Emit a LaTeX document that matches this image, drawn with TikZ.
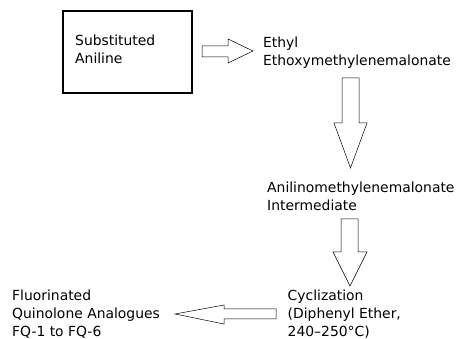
\documentclass[tikz,border=0pt]{standalone}
\usepackage{fontspec}
\setmainfont{DejaVu Sans}
\usetikzlibrary{positioning, calc}

\begin{document}
\begin{tikzpicture}[x=1pt, y=-1pt,
    label/.style={anchor=north west, inner sep=0pt, align=left, font=\fontsize{13.9}{18}\selectfont},
    blockarrow/.style={draw, line width=0.5pt, line join=miter, fill=white}]

  \useasboundingbox (0,0) rectangle (459,339);

  % Riquadro di partenza
  \draw[line width=2pt] (63,11) rectangle (192,93);
  \node[label] (subst) at (75,35) {Substituted\\Aniline};

  % Testi dei passaggi
  \node[label] (eem) at (263,37.2) {Ethyl\\Ethoxymethylenemalonate};
  \node[label] (inter) at (267,182.2) {Anilinomethylenemalonate\\Intermediate};
  \node[label] (cycl) at (287.5,290) {Cyclization\\(Diphenyl Ether,\\240--250°C)};
  \node[label] (fq) at (12,290) {Fluorinated\\Quinolone Analogues\\FQ-1 to FQ-6};

  % Frecce a blocco
  \draw[blockarrow] (202,46) -- (228,46) -- (228,39) -- (253,51) -- (228,63) -- (228,57) -- (202,57) -- cycle;
  \draw[blockarrow] (342,78) -- (359,78) -- (359,123) -- (367,123) -- (350.5,168) -- (334,123) -- (342,123) -- cycle;
  \draw[blockarrow] (341,219) -- (358,219) -- (358,252) -- (367,252) -- (350,286) -- (333,252) -- (341,252) -- cycle;
  \draw[blockarrow] (276,309) -- (224,309) -- (224,305) -- (175,314) -- (224,324) -- (224,319) -- (276,319) -- cycle;
\end{tikzpicture}
\end{document}
